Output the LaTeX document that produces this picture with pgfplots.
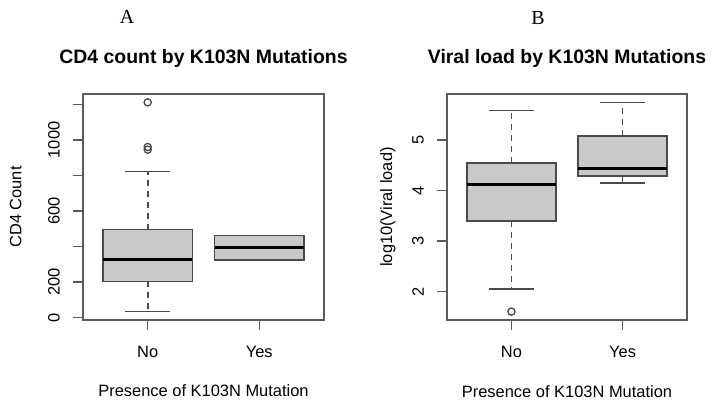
\documentclass[border=0pt]{standalone}
\usepackage{pgfplots}
\pgfplotsset{compat=1.18}
\usepgfplotslibrary{statistics}
\usepackage{fontspec}
\setmainfont{Liberation Sans}
\newfontfamily\seriffont{Liberation Serif}
\definecolor{rfill}{HTML}{C9C9C9}
\definecolor{rline}{HTML}{4A4A4A}
\definecolor{rframe}{HTML}{5A5A5A}

\pgfplotsset{
  rbp/.style={
    boxplot/draw direction=y,
    boxplot/box extend=0.8,
    boxplot/whisker extend=0.4,
    draw=rline, fill=rfill, line width=1.4bp, solid,
    boxplot/every median/.style={draw=black, line width=3.2bp},
    boxplot/draw/lower whisker/.code={%
      \draw[draw=rline, line width=1.7bp, dash pattern=on 6bp off 5bp]
        (boxplot box cs:\pgfplotsboxplotvalue{lower quartile},0.5) --
        (boxplot box cs:\pgfplotsboxplotvalue{lower whisker},0.5);
      \draw[draw=rline, line width=1.4bp, solid]
        (boxplot whisker cs:\pgfplotsboxplotvalue{lower whisker},0) --
        (boxplot whisker cs:\pgfplotsboxplotvalue{lower whisker},1);
    },
    boxplot/draw/upper whisker/.code={%
      \draw[draw=rline, line width=1.7bp, dash pattern=on 6bp off 5bp]
        (boxplot box cs:\pgfplotsboxplotvalue{upper quartile},0.5) --
        (boxplot box cs:\pgfplotsboxplotvalue{upper whisker},0.5);
      \draw[draw=rline, line width=1.4bp, solid]
        (boxplot whisker cs:\pgfplotsboxplotvalue{upper whisker},0) --
        (boxplot whisker cs:\pgfplotsboxplotvalue{upper whisker},1);
    },
  },
  rout/.style={only marks, mark=o, mark size=3.6bp, draw=rline, line width=1.3bp, mark options={draw=rline, line width=1.3bp}},
  rax/.style={
    scale only axis, height=226bp,
    xmin=0.42, xmax=2.58,
    xtick={1,2}, xticklabels={No,Yes},
    tick align=outside, major tick length=10bp,
    tick pos=left,
    tick style={draw=rframe, line width=1.3bp},
    axis line style={draw=rframe, line width=1.3bp},
    tick label style={font=\fontsize{16.5}{18}\selectfont, inner sep=0pt},
    yticklabel style={rotate=90, anchor=south},
    xticklabel style={anchor=north},
    xticklabel shift=16bp,
    yticklabel shift=13bp,
    label style={font=\fontsize{16.5}{18}\selectfont},
    title style={font=\bfseries\fontsize{19.5}{22}\selectfont, at={(axis description cs:0.5,1.1106)}, anchor=base},
    xlabel style={at={(axis description cs:0.5,-0.3407)}, anchor=base},
    xlabel={Presence of K103N Mutation},
    /pgf/number format/assume math mode=true,
  },
}

\begin{document}
\begin{tikzpicture}
\begin{axis}[rax, width=241bp, at={(83bp,88bp)}, anchor=south west,
  ymin=-13, ymax=1258,
  ytick={0,200,400,600,800,1000,1200},
  yticklabels={0,200,,600,,1000,},
  title={CD4 count by K103N Mutations},
  ylabel={CD4 Count},
  ylabel style={at={(axis description cs:-0.279,0.5)}, anchor=center},
]
\addplot[rbp, boxplot prepared={lower whisker=34, lower quartile=205, median=329, upper quartile=495, upper whisker=822, draw position=1}] coordinates {};
\addplot[rout] coordinates {(1,1211) (1,960) (1,945)};
\addplot[rbp, boxplot prepared={lower whisker=325, lower quartile=325, median=394, upper quartile=462, upper whisker=462, draw position=2}] coordinates {};
\end{axis}

\begin{axis}[rax, width=240bp, at={(447bp,88bp)}, anchor=south west,
  ymin=1.438, ymax=5.911,
  ytick={2,3,4,5},
  yticklabels={2,3,4,5},
  title={Viral load by K103N Mutations},
  ylabel={log10(Viral load)},
  ylabel style={at={(axis description cs:-0.246,0.5)}, anchor=center},
]
\addplot[rbp, boxplot prepared={lower whisker=2.054, lower quartile=3.395, median=4.114, upper quartile=4.544, upper whisker=5.587, draw position=1}] coordinates {};
\addplot[rout] coordinates {(1,1.604)};
\addplot[rbp, boxplot prepared={lower whisker=4.148, lower quartile=4.287, median=4.431, upper quartile=5.079, upper whisker=5.745, draw position=2}] coordinates {};
\end{axis}

\node[font=\seriffont\fontsize{20}{22}\selectfont, anchor=center] at (127bp,391bp) {A};
\node[font=\seriffont\fontsize{20}{22}\selectfont, anchor=center] at (538bp,390bp) {B};

\pgfresetboundingbox
\path[use as bounding box] (0,0) rectangle (718bp,408bp);
\end{tikzpicture}
\end{document}
